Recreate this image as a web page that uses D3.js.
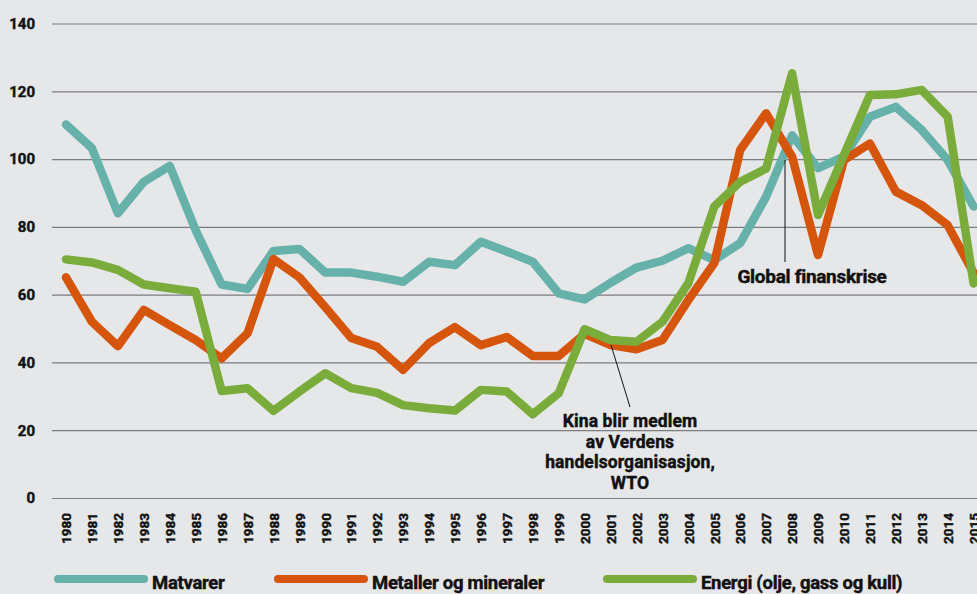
<!DOCTYPE html>
<html>
<head>
<meta charset="utf-8">
<script src="https://cdn.jsdelivr.net/npm/d3@7"></script>
<style>
  body { margin: 0; background: #e6e7e9; }
  text { font-family: Roboto, "Open Sans", sans-serif; font-weight: 700; fill: #111; stroke: #111; stroke-width: 0.45px; }
</style>
</head>
<body>
<div id="chart"></div>
<script>
// data
var years = d3.range(1980, 2016);
var matvarer = [110.2, 103.2, 84, 93.3, 98, 79, 63, 61.7, 72.9, 73.5, 66.5, 66.5, 65.3, 63.8, 69.7, 68.7, 75.6, 72.7, 69.7, 60.4,
                58.6, 63.5, 68, 70, 73.7, 70.2, 75.2, 88.9, 107, 97.3, 100.7, 112.5, 115.4, 108.6, 99.7, 86];
var metaller = [65.1, 52, 44.8, 55.5, 51, 46.6, 41.2, 48.6, 70.5, 65.1, 56.3, 47.2, 44.6, 37.8, 45.7, 50.4, 45.1, 47.5, 41.9, 41.9,
                48.4, 45.1, 43.9, 46.6, 58.4, 69.3, 102.7, 113.5, 100.7, 71.7, 99.7, 104.6, 90.4, 86.4, 80.5, 66.4];
var energi = [70.4, 69.5, 67.3, 63, 61.9, 60.9, 31.6, 32.4, 25.7, 31.4, 36.8, 32.4, 31, 27.4, 26.5, 25.8, 31.9, 31.4, 24.7, 30.9,
              49.8, 46.6, 46.1, 52, 63.4, 86, 93.3, 97.2, 125.3, 83.5, 101.2, 118.9, 119.1, 120.4, 112.5, 63.3];
var yTicks = [0, 20, 40, 60, 80, 100, 120, 140];
var seriesNames = ["Matvarer", "Metaller og mineraler", "Energi (olje, gass og kull)"];
var seriesColors = ["#66b1aa", "#d6550d", "#7aac3b"];

var width = 977, height = 594;

var svg = d3.select("#chart").append("svg")
    .attr("width", width)
    .attr("height", height)
    .style("background-color", "#e6e7e9");

var x = d3.scalePoint().domain(years).range([66, 973.6]);
var y = d3.scaleLinear().domain([0, 140]).range([498, 23.5]);

// Y axis with gridlines
var yAxis = svg.append("g")
    .attr("transform", "translate(52,0)")
    .call(d3.axisLeft(y).tickValues(yTicks).tickSize(-(width - 52)).tickPadding(17));
yAxis.select(".domain").remove();
yAxis.selectAll(".tick line").attr("stroke", "#7d7d7f").attr("stroke-width", 1.2);
yAxis.selectAll(".tick text").style("font-size", "15px").attr("fill", "#111");

// X axis labels, rotated
var xAxis = svg.append("g")
    .attr("transform", "translate(0,513)")
    .call(d3.axisBottom(x).tickSize(0));
xAxis.select(".domain").remove();
xAxis.selectAll(".tick text")
    .style("font-size", "13.5px")
    .attr("fill", "#111")
    .attr("transform", "rotate(-90)")
    .attr("x", 0)
    .attr("y", 0)
    .attr("dy", "0.35em")
    .style("text-anchor", "end");

// lines
var line = d3.line()
    .x(function(d, i) { return x(years[i]); })
    .y(function(d) { return y(d); });

[matvarer, metaller, energi].forEach(function(s, i) {
  svg.append("path")
    .datum(s)
    .attr("fill", "none")
    .attr("stroke", seriesColors[i])
    .attr("stroke-width", 8.5)
    .attr("stroke-linejoin", "round")
    .attr("stroke-linecap", "round")
    .attr("d", line);
});

// annotations
svg.append("line")
    .attr("x1", 785).attr("y1", 160).attr("x2", 785).attr("y2", 262)
    .attr("stroke", "#111").attr("stroke-width", 1);
svg.append("text")
    .attr("x", 812).attr("y", 283)
    .attr("text-anchor", "middle")
    .style("font-size", "19px")
    .style("letter-spacing", "-0.3px")
    .text("Global finanskrise");

svg.append("line")
    .attr("x1", 611).attr("y1", 345).attr("x2", 630).attr("y2", 407)
    .attr("stroke", "#111").attr("stroke-width", 1);
var wto = ["Kina blir medlem", "av Verdens", "handelsorganisasjon,", "WTO"];
wto.forEach(function(t, i) {
  svg.append("text")
    .attr("x", 630)
    .attr("y", 427 + i * 20.5)
    .attr("text-anchor", "middle")
    .style("font-size", "17.5px")
    .style("letter-spacing", "0.1px")
    .text(t);
});

// legend
var legendX = [58, 278, 607];
seriesNames.forEach(function(name, i) {
  svg.append("line")
    .attr("x1", legendX[i]).attr("x2", legendX[i] + 86)
    .attr("y1", 579).attr("y2", 579)
    .attr("stroke", seriesColors[i])
    .attr("stroke-width", 8)
    .attr("stroke-linecap", "round");
  svg.append("text")
    .attr("x", legendX[i] + 94)
    .attr("y", 589)
    .style("font-size", "18.5px")
    .style("letter-spacing", "-0.3px")
    .text(name);
});
</script>
</body>
</html>
